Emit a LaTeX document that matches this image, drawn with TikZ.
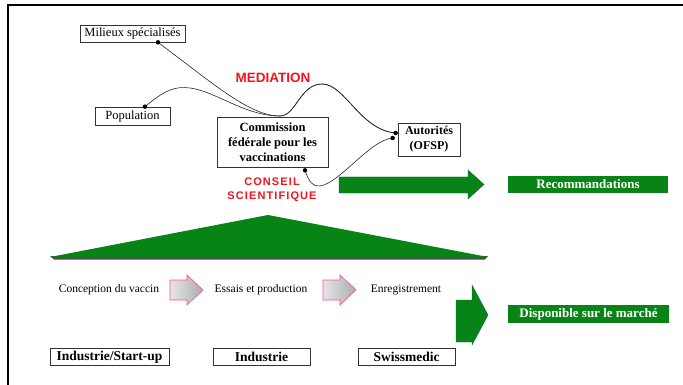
\documentclass[tikz,border=0pt]{standalone}
\usepackage{fontspec}
\setmainfont{Liberation Serif}
\newfontfamily\labsans{Liberation Sans}
\usetikzlibrary{calc}
\definecolor{dkgreen}{RGB}{8,132,22}
\definecolor{lblred}{RGB}{240,20,30}
\begin{document}
\begin{tikzpicture}[x=1pt,y=-1pt,
  wbox/.style={draw=black!80, line width=0.7pt, fill=white, inner sep=0pt, align=center},
  gbox/.style={fill=dkgreen, text=white, inner sep=0pt, font=\bfseries\fontsize{13}{15}\selectfont},
  plainlab/.style={inner sep=0pt, font=\fontsize{11.5}{14}\selectfont},
  bbox/.style={wbox, minimum width=97pt, minimum height=17pt, font=\bfseries\fontsize{13.5}{15}\selectfont},
  dot/.style={circle, fill=black, inner sep=0pt, minimum size=4.5pt},
  link/.style={line width=0.6pt, black!85},
  redlab/.style={text=lblred, font=\labsans\bfseries\fontsize{13.5}{14}\selectfont, align=center},
  grayarrow/.style={left color=gray!20, right color=gray!65, draw=red!55!magenta!70, line width=0.6pt},
  greenarrow/.style={fill=dkgreen, draw=dkgreen!80!blue, line width=0.4pt}]
\useasboundingbox (0,0) rectangle (683,385);
% frame
\draw[line width=1.5pt] (8,385) -- (8,5) -- (683,5);

% top nodes
\node[wbox, minimum width=105pt, minimum height=17pt, font=\fontsize{12.5}{14}\selectfont] (mil) at (132.5,33.5) {Milieux spécialisés};
\node[wbox, minimum width=75pt, minimum height=18pt, font=\fontsize{12.5}{14}\selectfont] (pop) at (132.5,116) {Population};
\node[wbox, minimum width=111pt, minimum height=50pt, font=\bfseries\fontsize{12.5}{15}\selectfont] (cfv) at (272.5,142) {Commission\\fédérale pour les\\vaccinations};
\node[wbox, minimum width=62pt, minimum height=33pt, font=\bfseries\fontsize{12}{15}\selectfont] (aut) at (429,139.5) {Autorités\\(OFSP)};

\node[redlab] (med) at (273,78) {MEDIATION};
\node[redlab, font=\labsans\bfseries\fontsize{11}{14}\selectfont\addfontfeature{LetterSpace=10}] (cons) at (272,190) {CONSEIL\\SCIENTIFIQUE};

% connector end points
\coordinate (m1) at ([xshift=25.5pt]mil.south);
\coordinate (p1) at ([xshift=12.5pt]pop.north);
\coordinate (a1) at ([xshift=-2pt,yshift=6.5pt]aut.west);
\coordinate (a2) at ([xshift=-5pt,yshift=1.5pt]aut.west);
\coordinate (c1) at ([xshift=32.5pt,yshift=-3pt]cfv.south);

\draw[link] (m1) .. controls (215,85) and (250,116) .. (280,116)
  .. controls (296,116) and (300,84) .. (322,84)
  .. controls (345,84) and (360,130) .. (a1);
\draw[link] (p1) .. controls (165,90) and (175,86) .. (190,88)
  .. controls (215,91) and (245,116) .. (280,116)
  .. controls (296,116) and (300,84) .. (322,84)
  .. controls (345,84) and (360,130) .. (a1);
\draw[link] (c1) .. controls (309,182) and (313,187) .. (320,186)
  .. controls (340,183) and (370,140) .. (a2);
\foreach \p in {m1,p1,a1,a2,c1} \node[dot] at (\p) {};

% recommandations
\draw[greenarrow] (339,177) -- (468,177) -- (468,170) -- (484,184.5) -- (468,199) -- (468,193) -- (339,193) -- cycle;
\node[gbox, minimum width=160pt, minimum height=17pt] (rec) at (588,184.5) {Recommandations};

% triangle with shadow
\fill[black!70] (50,256) -- (488,256) -- (485,259.5) -- (54,259.5) -- cycle;
\fill[dkgreen] (50,257) -- (268,215) -- (488,257) -- cycle;

% process row
\node[plainlab] (conc) at (109,290) {Conception du vaccin};
\node[plainlab] (essa) at (261,290) {Essais et production};
\node[plainlab] (enre) at (406,290) {Enregistrement};
\draw[grayarrow] (170,280) -- (187,280) -- (187,275) -- (203,290) -- (187,305) -- (187,300) -- (170,300) -- cycle;
\draw[grayarrow] (323,280) -- (340,280) -- (340,275) -- (356,290) -- (340,305) -- (340,300) -- (323,300) -- cycle;

\draw[greenarrow] (456,300) -- (472,300) -- (472,285) -- (488,315) -- (472,345) -- (472,342) -- (456,342) -- cycle;
\node[gbox, minimum width=161pt, minimum height=18pt] (dis) at (588.5,314) {Disponible sur le marché};

% bottom boxes
\node[bbox, minimum width=119pt] (ind1) at (109.5,357) {Industrie/Start-up};
\node[bbox] (ind2) at (261.5,357) {Industrie};
\node[bbox] (swm) at (406.5,357) {Swissmedic};
\end{tikzpicture}
\end{document}
